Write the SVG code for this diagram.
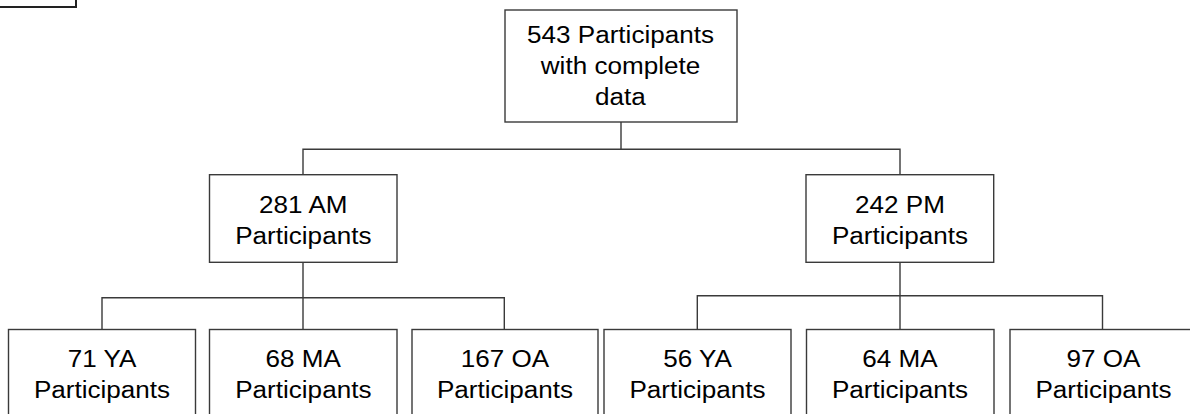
<svg xmlns="http://www.w3.org/2000/svg" width="1190" height="414" viewBox="0 0 1190 414">
<style>
.box{fill:#fff;stroke:#3a3a3a;stroke-width:1.4}
.ln{fill:none;stroke:#3a3a3a;stroke-width:1.4}
.t{font-family:"Liberation Sans",Arial,sans-serif;font-size:23.3px;fill:#000;text-anchor:middle}
</style>
<rect x="0" y="0" width="1190" height="414" fill="#fff"/>
<g id="corner"><rect x="-5" y="-20" width="81" height="27" fill="#fff" stroke="#222" stroke-width="2"/></g>
<g id="connectors" class="ln">
<path d="M621 122V149.3M303 175V149.3H900V175"/>
<path d="M303 262.3V329.5M102 329.5V297.7H504.3V329.5"/>
<path d="M900 262.3V329.5M697.3 329.5V295.7H1102.5V329.5"/>
</g>
<g id="n543"><rect class="box" x="505" y="10" width="232" height="112"/>
<text class="t" transform="matrix(1.12 0 0 1 620.5 0)"><tspan x="0" y="43.5">543 Participants</tspan><tspan x="0" y="74.5">with complete</tspan><tspan x="0" y="105.5">data</tspan></text></g>
<g id="nAM"><rect class="box" x="209.5" y="174.7" width="187.5" height="87.6"/>
<text class="t" transform="matrix(1.12 0 0 1 303.3 0)"><tspan x="0" y="213">281 AM</tspan><tspan x="0" y="244">Participants</tspan></text></g>
<g id="nPM"><rect class="box" x="806" y="174.7" width="187.7" height="87.6"/>
<text class="t" transform="matrix(1.12 0 0 1 900 0)"><tspan x="0" y="213">242 PM</tspan><tspan x="0" y="244">Participants</tspan></text></g>
<g id="nYA1"><rect class="box" x="8.5" y="329.5" width="187" height="100"/>
<text class="t" transform="matrix(1.12 0 0 1 102 0)"><tspan x="0" y="367">71 YA</tspan><tspan x="0" y="398">Participants</tspan></text></g>
<g id="nMA1"><rect class="box" x="209.5" y="329.5" width="187.5" height="100"/>
<text class="t" transform="matrix(1.12 0 0 1 303.3 0)"><tspan x="0" y="367">68 MA</tspan><tspan x="0" y="398">Participants</tspan></text></g>
<g id="nOA1"><rect class="box" x="412" y="329.5" width="186" height="100"/>
<text class="t" transform="matrix(1.12 0 0 1 505 0)"><tspan x="0" y="367">167 OA</tspan><tspan x="0" y="398">Participants</tspan></text></g>
<g id="nYA2"><rect class="box" x="604" y="329.5" width="187" height="100"/>
<text class="t" transform="matrix(1.12 0 0 1 697.5 0)"><tspan x="0" y="367">56 YA</tspan><tspan x="0" y="398">Participants</tspan></text></g>
<g id="nMA2"><rect class="box" x="806.5" y="329.5" width="187.5" height="100"/>
<text class="t" transform="matrix(1.12 0 0 1 900 0)"><tspan x="0" y="367">64 MA</tspan><tspan x="0" y="398">Participants</tspan></text></g>
<g id="nOA2"><rect class="box" x="1010" y="329.5" width="187" height="100"/>
<text class="t" transform="matrix(1.12 0 0 1 1103.5 0)"><tspan x="0" y="367">97 OA</tspan><tspan x="0" y="398">Participants</tspan></text></g>
</svg>
